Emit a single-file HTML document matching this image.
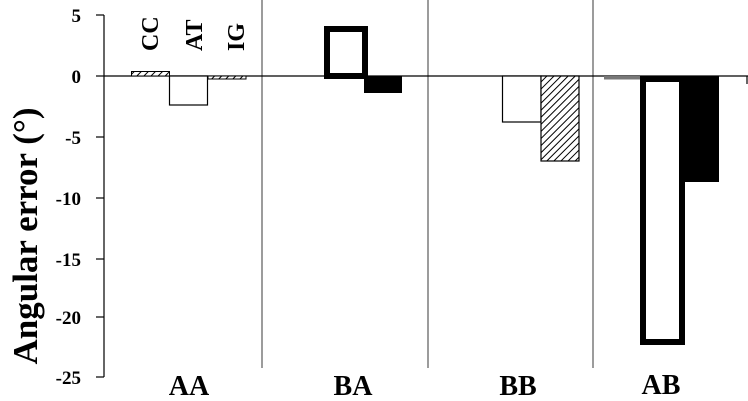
<!DOCTYPE html>
<html><head><meta charset="utf-8"><style>
html,body{margin:0;padding:0;background:#fff;}
svg{display:block;}
text{font-family:"Liberation Serif",serif;font-weight:bold;fill:#000;}
</style></head><body>
<svg width="748" height="401" viewBox="0 0 748 401" xmlns="http://www.w3.org/2000/svg">
<defs>
<pattern id="h" width="5" height="5" patternUnits="userSpaceOnUse" patternTransform="rotate(45)">
<rect width="5" height="5" fill="#fff"/><line x1="0" y1="0" x2="0" y2="5" stroke="#000" stroke-width="2"/>
</pattern>
</defs>
<g stroke="#666" stroke-width="1.3">
<line x1="262" y1="0" x2="262" y2="368"/>
<line x1="428" y1="0" x2="428" y2="368"/>
<line x1="593" y1="0" x2="593" y2="368"/>
</g>
<g stroke="#000" stroke-width="1.2">
<line x1="104" y1="15" x2="104" y2="377"/>
<line x1="96" y1="15" x2="104" y2="15"/>
<line x1="96" y1="76" x2="104" y2="76"/>
<line x1="96" y1="137" x2="104" y2="137"/>
<line x1="96" y1="198" x2="104" y2="198"/>
<line x1="96" y1="259" x2="104" y2="259"/>
<line x1="96" y1="317" x2="104" y2="317"/>
<line x1="96" y1="377" x2="104" y2="377"/>
<line x1="104" y1="76" x2="748" y2="76"/>
<line x1="747" y1="76" x2="747" y2="84"/>
</g>
<g font-size="19" text-anchor="end">
<text x="81" y="22">5</text>
<text x="81" y="83">0</text>
<text x="81" y="144">-5</text>
<text x="81" y="205">-10</text>
<text x="81" y="266">-15</text>
<text x="81" y="324">-20</text>
<text x="81" y="384">-25</text>
</g>
<text transform="translate(37,236) rotate(-90)" font-size="35" text-anchor="middle">Angular error (°)</text>
<g font-size="24" text-anchor="start">
<text transform="translate(158,51) rotate(-90)">CC</text>
<text transform="translate(202,51) rotate(-90)">AT</text>
<text transform="translate(244,51) rotate(-90)">IG</text>
</g>
<rect x="131.5" y="71.5" width="38" height="4.5" fill="url(#h)" stroke="#000" stroke-width="1"/>
<rect x="169.5" y="76" width="38" height="29" fill="#fff" stroke="#000" stroke-width="1.2"/>
<rect x="208" y="76" width="38" height="3" fill="url(#h)" stroke="#000" stroke-width="1"/>
<rect x="327" y="29" width="38" height="47" fill="#fff" stroke="#000" stroke-width="6"/>
<rect x="364" y="76" width="38" height="17" fill="#000"/>
<rect x="502.5" y="76" width="38.5" height="46" fill="#fff" stroke="#000" stroke-width="1.2"/>
<rect x="541" y="76" width="38" height="85" fill="url(#h)" stroke="#000" stroke-width="1.2"/>
<rect x="604" y="76" width="36" height="3.5" fill="#777"/>
<rect x="643" y="79" width="39" height="263" fill="#fff" stroke="#000" stroke-width="6"/>
<rect x="682" y="76" width="37" height="106" fill="#000"/>
<g font-size="28" text-anchor="middle">
<text x="189" y="395">AA</text>
<text x="353" y="395">BA</text>
<text x="518" y="395">BB</text>
<text x="661" y="394">AB</text>
</g>
</svg>
</body></html>
